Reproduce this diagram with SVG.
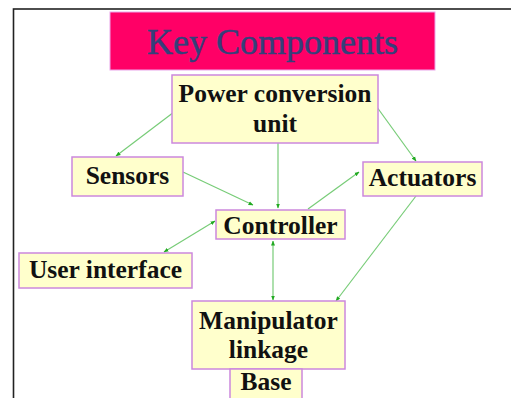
<svg xmlns="http://www.w3.org/2000/svg" width="511" height="398" viewBox="0 0 511 398">
<style>
.box{fill:#FFFFCC;stroke:#CC88DD;stroke-width:1.5}
.lbl{font-family:"Liberation Serif","Times New Roman",serif;font-weight:bold;font-size:25.5px;fill:#111;text-anchor:middle}
.con{stroke:#77CC77;stroke-width:1.2;fill:none}
</style>
<defs>
<marker id="ah" viewBox="0 0 10 10" refX="9" refY="5" markerWidth="5" markerHeight="5" orient="auto-start-reverse" markerUnits="userSpaceOnUse">
<path d="M0,1 L10,5 L0,9 z" fill="#22AA22"/>
</marker>
</defs>
<rect width="511" height="398" fill="#fff"/>
<rect x="13.5" y="9" width="520" height="420" fill="none" stroke="#222" stroke-width="1.6"/>
<g id="title">
<rect x="110" y="12" width="325" height="58" fill="#FF0066" stroke="#EAA6EA" stroke-width="1"/>
<text x="272.5" y="54" font-family="Liberation Serif,'Times New Roman',serif" font-size="36" fill="#34407A" stroke="#34407A" stroke-width="0.5" text-anchor="middle" textLength="251" lengthAdjust="spacingAndGlyphs">Key Components</text>
</g>
<g id="connectors">
<line class="con" x1="178" y1="109" x2="116" y2="156" marker-end="url(#ah)"/>
<line class="con" x1="374" y1="103" x2="416" y2="161" marker-end="url(#ah)"/>
<line class="con" x1="278" y1="143" x2="278" y2="208" marker-end="url(#ah)"/>
<line class="con" x1="183" y1="172" x2="253" y2="205" marker-end="url(#ah)"/>
<line class="con" x1="308" y1="209" x2="359" y2="172" marker-end="url(#ah)"/>
<line class="con" x1="164" y1="252" x2="215" y2="221" marker-start="url(#ah)" marker-end="url(#ah)"/>
<line class="con" x1="273" y1="241" x2="273" y2="300" marker-start="url(#ah)" marker-end="url(#ah)"/>
<line class="con" x1="416" y1="196" x2="336" y2="301" marker-end="url(#ah)"/>
</g>
<g id="power">
<rect class="box" x="172" y="75" width="206" height="68"/>
<text class="lbl" x="275" y="102">Power conversion</text>
<text class="lbl" x="275" y="132">unit</text>
</g>
<g id="sensors">
<rect class="box" x="72" y="157" width="111" height="39"/>
<text class="lbl" x="127.5" y="184">Sensors</text>
</g>
<g id="actuators">
<rect class="box" x="363" y="162" width="119" height="34"/>
<text class="lbl" x="422.5" y="186">Actuators</text>
</g>
<g id="controller">
<rect class="box" x="216" y="210" width="129" height="29"/>
<text class="lbl" x="280.5" y="234">Controller</text>
</g>
<g id="user">
<rect class="box" x="19" y="253" width="173" height="35"/>
<text class="lbl" x="105.5" y="278">User interface</text>
</g>
<g id="manipulator">
<rect class="box" x="192" y="301" width="153" height="68"/>
<text class="lbl" x="268.5" y="329">Manipulator</text>
<text class="lbl" x="268.5" y="358">linkage</text>
</g>
<g id="base">
<rect class="box" x="230" y="369" width="72" height="40"/>
<text class="lbl" x="266" y="390">Base</text>
</g>
</svg>
